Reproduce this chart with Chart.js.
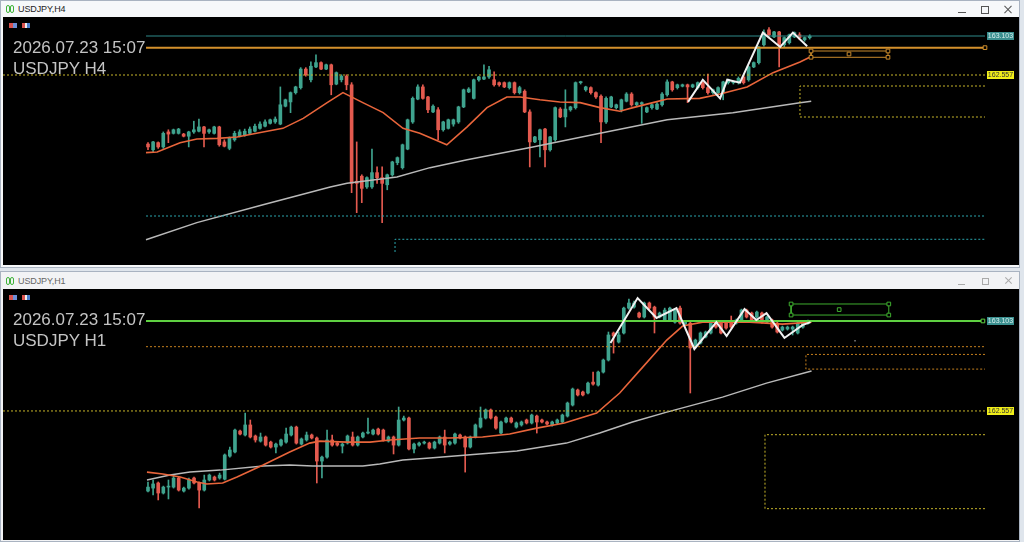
<!DOCTYPE html>
<html><head><meta charset="utf-8">
<script src="https://cdn.jsdelivr.net/npm/chart.js@4.4.1/dist/chart.umd.min.js"></script>
<style>
html,body{margin:0;padding:0;width:1024px;height:542px;overflow:hidden;background:#dfe5ec;font-family:"Liberation Sans",Arial,sans-serif;}
.win{position:absolute;left:0;width:1020px;border:1px solid #a9b3c1;box-sizing:border-box;}
#w1{top:0;height:268px;background:#f6f8fa;}
#w2{top:271px;height:271px;background:#f2f3f5;}
.ttl{position:absolute;left:17px;font-size:9px;letter-spacing:-0.1px;}
.ico{position:absolute;width:2px;height:6px;border:1px solid #3fb33a;border-radius:2px;}
canvas{position:absolute;background:#000;}
.txt{position:absolute;left:13px;color:#c4c4c4;font-size:17px;line-height:17px;white-space:nowrap;font-family:"Liberation Sans",Arial,sans-serif;}
.ctl{position:absolute;}
.mi{position:absolute;width:8px;height:5px;}
</style></head>
<body>
<div class="win" id="w1">
  <div class="ico" style="left:5px;top:4px"></div><div class="ico" style="left:9px;top:4px"></div>
  <div class="ttl" style="top:3px;color:#222">USDJPY,H4</div>
  <div class="ctl" style="left:957px;top:11px;width:8px;height:1px;background:#555"></div>
  <div class="ctl" style="left:980px;top:5px;width:6px;height:6px;border:1px solid #555"></div>
  <div class="ctl" style="left:1002px;top:8px;width:10px;height:1px;background:#555;transform:rotate(45deg)"></div>
  <div class="ctl" style="left:1002px;top:8px;width:10px;height:1px;background:#555;transform:rotate(-45deg)"></div>
</div>
<div class="win" id="w2">
  <div class="ico" style="left:5px;top:5px"></div><div class="ico" style="left:9px;top:5px"></div>
  <div class="ttl" style="top:4px;color:#666">USDJPY,H1</div>
  <div class="ctl" style="left:957px;top:12px;width:7px;height:1px;background:#aaa"></div>
  <div class="ctl" style="left:981px;top:6px;width:5px;height:5px;border:1px solid #aaa"></div>
  <div class="ctl" style="left:1003px;top:8px;width:9px;height:1px;background:#aaa;transform:rotate(45deg)"></div>
  <div class="ctl" style="left:1003px;top:8px;width:9px;height:1px;background:#aaa;transform:rotate(-45deg)"></div>
</div>
<canvas id="c1" width="1016" height="248" style="left:3px;top:17px"></canvas>
<canvas id="c2" width="1016" height="251" style="left:3px;top:289px"></canvas>

<div class="mi" style="left:9px;top:23px;background:linear-gradient(90deg,#d9534f 0 4px,#6d8fd6 4px 8px)"></div>
<div class="mi" style="left:22px;top:23px;background:linear-gradient(90deg,#d9534f 0 3px,#eee 3px 5px,#4a7fd0 5px 8px)"></div>
<div class="mi" style="left:9px;top:295px;background:linear-gradient(90deg,#d9534f 0 4px,#6d8fd6 4px 8px)"></div>
<div class="mi" style="left:22px;top:295px;background:linear-gradient(90deg,#d9534f 0 3px,#eee 3px 5px,#4a7fd0 5px 8px)"></div>

<div class="txt" style="top:38.5px">2026.07.23 15:07</div>
<div class="txt" style="top:59.5px">USDJPY H4</div>
<div class="txt" style="top:310.5px">2026.07.23 15:07</div>
<div class="txt" style="top:331.5px">USDJPY H1</div>

<script>
// ---------------- H4 data ----------------
const H4_OPEN = [161.59,161.51,161.61,161.55,161.76,161.74,161.74,161.73,161.70,161.76,
161.77,161.83,161.76,161.74,161.83,161.62,161.53,161.65,161.70,161.72,
161.74,161.77,161.81,161.84,161.88,161.90,161.87,162.12,162.18,162.31,
162.38,162.64,162.49,162.67,162.73,162.64,162.70,162.43,162.49,162.54,
162.42,161.07,161.14,160.99,160.99,161.19,161.12,161.02,161.16,161.33,
161.26,161.52,161.90,162.22,162.39,162.25,162.04,162.07,161.79,161.81,
161.87,161.90,162.11,162.32,162.23,162.49,162.50,162.53,162.49,162.45,
162.45,162.38,162.45,162.31,162.33,162.04,161.62,161.65,161.80,161.51,
161.65,162.08,161.97,162.07,162.10,162.45,162.35,162.38,162.31,162.26,
161.90,162.11,162.10,162.07,162.19,162.29,162.14,162.15,162.04,162.10,
162.08,162.14,162.28,162.46,162.38,162.40,162.42,162.39,162.38,162.45,
162.38,162.31,162.31,162.31,162.45,162.45,162.45,162.53,162.49,162.67,
162.73,162.98,163.19,163.09,163.16,162.98,163.01,163.09,163.12,163.05,163.08];
const H4_HIGH = [161.61,161.63,161.62,161.76,161.79,161.80,161.81,161.74,161.77,161.91,
161.94,161.84,161.80,161.84,161.84,161.65,161.69,161.77,161.79,161.80,
161.83,161.87,161.90,161.93,161.94,161.97,162.39,162.22,162.32,162.40,
162.66,162.66,162.74,162.84,162.74,162.71,162.71,162.60,162.56,162.56,
162.45,161.62,161.16,161.13,161.52,161.27,161.27,161.17,161.35,161.41,
161.59,161.94,162.25,162.42,162.42,162.26,162.14,162.10,161.91,161.94,
161.94,162.12,162.36,162.38,162.50,162.54,162.70,162.68,162.60,162.46,
162.46,162.46,162.46,162.40,162.35,162.07,161.70,161.80,161.81,161.70,
162.11,162.10,162.35,162.12,162.46,162.47,162.40,162.39,162.32,162.28,
162.25,162.26,162.15,162.22,162.31,162.31,162.18,162.18,162.11,162.15,
162.17,162.31,162.49,162.47,162.43,162.43,162.43,162.43,162.46,162.46,
162.57,162.36,162.39,162.47,162.50,162.47,162.53,162.54,162.68,162.74,
162.96,163.19,163.22,163.17,163.17,163.09,163.13,163.16,163.15,163.09,163.12];
const H4_LOW = [161.51,161.48,161.53,161.53,161.61,161.73,161.73,161.69,161.55,161.74,
161.76,161.55,161.74,161.73,161.56,161.55,161.51,161.63,161.69,161.70,
161.73,161.76,161.80,161.83,161.87,161.88,161.86,162.11,162.03,162.29,
162.36,162.54,162.46,162.66,162.63,162.63,162.28,162.42,162.46,162.35,
160.91,160.63,160.77,160.97,160.97,161.04,160.49,160.95,161.14,161.30,
161.24,161.51,161.88,162.21,162.22,162.03,162.03,161.65,161.77,161.80,
161.84,161.88,162.10,162.31,162.22,162.47,162.49,162.51,162.40,162.40,
162.38,162.36,162.29,162.29,162.03,161.27,161.61,161.41,161.27,161.49,
161.63,161.96,161.83,162.05,162.08,162.43,162.33,162.29,162.23,161.61,
161.88,162.10,162.08,162.04,162.18,162.12,162.12,161.88,162.03,162.08,
162.07,162.12,162.26,162.33,162.36,162.39,162.17,162.38,162.36,162.36,
162.29,162.29,162.29,162.21,162.43,162.43,162.43,162.43,162.47,162.66,
162.71,162.96,163.10,163.08,162.67,162.95,162.99,163.08,163.05,163.03,163.06];
const H4_CLOSE = [161.55,161.62,161.55,161.74,161.73,161.79,161.80,161.70,161.76,161.79,
161.83,161.74,161.79,161.83,161.58,161.56,161.67,161.74,161.76,161.77,
161.80,161.84,161.87,161.90,161.93,161.94,162.14,162.21,162.31,162.39,
162.64,162.56,162.68,162.73,162.64,162.70,162.42,162.59,162.54,162.42,
161.04,161.04,160.97,161.12,161.19,161.12,161.04,161.16,161.34,161.40,
161.58,161.93,162.23,162.39,162.23,162.07,162.12,161.79,161.90,161.93,
161.93,162.11,162.35,162.36,162.49,162.53,162.53,162.63,162.42,162.42,
162.39,162.45,162.31,162.38,162.04,161.62,161.69,161.79,161.51,161.69,
162.10,161.97,162.08,162.11,162.45,162.46,162.39,162.31,162.25,161.90,
162.23,162.25,162.14,162.21,162.29,162.14,162.17,162.17,162.10,162.14,
162.15,162.29,162.46,162.35,162.42,162.42,162.39,162.42,162.45,162.38,
162.31,162.35,162.38,162.46,162.49,162.46,162.51,162.45,162.67,162.73,
162.95,163.15,163.12,163.16,162.98,163.08,163.12,163.15,163.08,163.08,163.10];
const H4_EMA_X = [-0.4,1.8,6.3,9.6,13.6,17.5,22.6,26.5,30.5,35.2,38.3,42.2,46.2,50.1,53.4,58.7,62.7,66.6,70.5,73.1,77.0,80.9,84.9,88.8,92.7,95.3,99.2,102.0,108.4,112.4,117.7,122.8,128.1,130.1];
const H4_EMA_Y = [161.47,161.48,161.61,161.66,161.67,161.69,161.76,161.81,161.95,162.17,162.31,162.17,162.03,161.81,161.74,161.58,161.83,162.10,162.25,162.25,162.21,162.18,162.17,162.10,162.05,162.10,162.17,162.22,162.23,162.29,162.39,162.59,162.74,162.81];
const H4_SMA_X = [-0.4,9.6,22.6,35.8,39.1,48.9,55.4,62.7,75.6,88.8,102.0,114.9,128.1,130.3];
const H4_SMA_Y = [160.25,160.49,160.74,160.99,161.04,161.13,161.26,161.37,161.55,161.74,161.93,162.03,162.17,162.19];
const H4_ZZ_X = [106.1,109.0,112.4,113.8,116.3,120.8,124.2,126.7,129.5];
const H4_ZZ_Y = [162.18,162.49,162.23,162.49,162.45,163.15,162.95,163.15,162.96];
const H4_RANGE_X = [-28.49, 171.12];
const H4_RANGE_Y = [159.897, 163.369];

// ---------------- H1 data ----------------
const H1_OPEN = [162.071,162.089,162.120,162.059,162.095,162.095,162.150,162.071,162.089,162.150,
162.120,162.077,162.138,162.156,162.150,162.143,162.283,162.308,162.435,162.411,
162.472,162.405,162.374,162.399,162.368,162.338,162.350,162.368,162.411,162.459,
162.356,162.381,162.411,162.393,162.253,162.277,162.381,162.362,162.344,162.362,
162.399,162.350,162.399,162.423,162.417,162.447,162.441,162.374,162.399,162.350,
162.502,162.514,162.326,162.350,162.362,162.362,162.332,162.362,162.399,162.356,
162.362,162.411,162.399,162.338,162.399,162.459,162.514,162.563,162.520,162.423,
162.490,162.514,162.459,162.472,162.502,162.484,162.526,162.502,162.490,162.472,
162.484,162.490,162.526,162.593,162.684,162.672,162.666,162.732,162.714,162.793,
162.866,163.030,162.975,163.030,163.181,163.187,163.151,163.127,163.212,163.187,
163.127,163.109,163.109,163.096,163.181,163.084,163.090,162.945,162.969,163.006,
163.030,163.096,163.096,163.096,163.096,163.090,163.109,163.169,163.151,163.127,
163.151,163.096,163.109,163.090,163.048,163.054,163.054,163.030,163.066,163.090];
const H1_HIGH = [162.126,162.138,162.126,162.101,162.138,162.168,162.156,162.095,162.150,162.156,
162.126,162.168,162.174,162.162,162.180,162.296,162.338,162.447,162.441,162.544,
162.502,162.411,162.423,162.405,162.374,162.362,162.387,162.453,162.465,162.465,
162.393,162.429,162.417,162.399,162.283,162.441,162.411,162.368,162.362,162.411,
162.429,162.405,162.429,162.514,162.447,162.453,162.447,162.405,162.405,162.581,
162.526,162.520,162.362,162.368,162.374,162.368,162.374,162.405,162.441,162.374,
162.423,162.417,162.405,162.405,162.478,162.581,162.569,162.569,162.526,162.496,
162.520,162.520,162.490,162.496,162.508,162.538,162.532,162.508,162.496,162.496,
162.508,162.538,162.611,162.696,162.690,162.678,162.732,162.793,162.799,162.872,
163.036,163.036,163.036,163.187,163.236,163.224,163.157,163.218,163.218,163.193,
163.157,163.181,163.187,163.175,163.193,163.103,163.096,162.993,163.036,163.042,
163.096,163.103,163.103,163.103,163.133,163.115,163.175,163.175,163.157,163.163,
163.157,163.133,163.115,163.096,163.072,163.072,163.072,163.096,163.103,163.109];
const H1_LOW = [162.065,162.047,162.017,162.053,162.023,162.089,162.071,162.065,162.083,162.114,
161.968,162.071,162.132,162.132,162.143,162.138,162.277,162.302,162.411,162.405,
162.393,162.368,162.368,162.344,162.332,162.302,162.344,162.362,162.405,162.356,
162.350,162.374,162.387,162.120,162.150,162.271,162.344,162.344,162.302,162.356,
162.344,162.344,162.393,162.417,162.411,162.411,162.374,162.368,162.296,162.344,
162.496,162.320,162.302,162.344,162.356,162.326,162.326,162.356,162.302,162.350,
162.356,162.387,162.186,162.332,162.393,162.453,162.508,162.508,162.447,162.417,
162.484,162.484,162.453,162.465,162.478,162.478,162.423,162.484,162.472,162.465,
162.478,162.484,162.520,162.587,162.648,162.648,162.660,162.714,162.708,162.787,
162.860,162.908,162.969,163.024,163.175,163.181,163.121,163.121,163.175,163.030,
163.121,163.103,163.103,163.090,163.084,163.078,162.666,162.939,162.963,163.000,
163.024,163.060,163.024,163.054,163.060,163.084,163.103,163.121,163.103,163.121,
163.090,163.090,163.060,163.030,163.042,163.048,163.018,163.024,163.060,163.084];
const H1_CLOSE = [162.095,162.114,162.059,162.095,162.101,162.150,162.077,162.089,162.138,162.120,
162.077,162.138,162.168,162.138,162.168,162.290,162.320,162.441,162.417,162.472,
162.399,162.381,162.399,162.350,162.338,162.356,162.381,162.417,162.459,162.362,
162.387,162.411,162.393,162.253,162.277,162.381,162.350,162.350,162.356,162.405,
162.350,162.399,162.423,162.429,162.441,162.417,162.381,162.399,162.350,162.502,
162.514,162.326,162.356,162.362,162.368,162.332,162.368,162.399,162.350,162.368,
162.417,162.393,162.338,162.399,162.472,162.514,162.563,162.514,162.453,162.490,
162.514,162.490,162.484,162.490,162.484,162.532,162.490,162.490,162.478,162.490,
162.502,162.532,162.605,162.690,162.654,162.654,162.726,162.720,162.793,162.866,
163.018,163.012,163.018,163.181,163.212,163.212,163.127,163.212,163.181,163.127,
163.151,163.169,163.181,163.169,163.090,163.096,162.939,162.987,163.030,163.036,
163.090,163.066,163.030,163.060,163.066,163.109,163.169,163.127,163.109,163.157,
163.096,163.127,163.066,163.036,163.066,163.066,163.066,163.090,163.096,163.096];
const H1_EMA_X = [-0.2,2.9,6.3,9.6,11.5,14.6,17.4,22.5,27.7,31.6,33.6,38.9,43.4,47.3,53.1,59.0,65.4,70.7,76.0,81.4,87.7,92.2,96.7,101.4,104.5,108.4,117.6,124.0,129.7];
const H1_EMA_Y = [162.186,162.174,162.156,162.126,162.114,162.120,162.156,162.229,162.308,162.362,162.374,162.368,162.368,162.381,162.393,162.393,162.399,162.417,162.453,162.484,162.544,162.666,162.823,162.987,163.072,163.096,163.096,163.084,163.096];
const H1_SMA_X = [-0.2,4.3,8.2,14.1,22.5,27.7,32.2,42.0,45.3,49.8,55.1,64.8,72.1,81.8,88.3,94.7,101.4,112.3,120.9,129.7];
const H1_SMA_Y = [162.138,162.168,162.186,162.198,162.223,162.229,162.223,162.223,162.235,162.259,162.271,162.296,162.314,162.362,162.423,162.490,162.550,162.641,162.726,162.799];
const H1_ZZ_X = [90.4,95.7,99.4,103.3,106.8,111.1,113.1,116.6,118.9,120.9,124.4,127.9,129.5];
const H1_ZZ_Y = [162.969,163.242,163.121,163.181,162.933,163.096,163.012,163.175,163.109,163.151,163.000,163.078,163.096];
const H1_RANGE_X = [-28.34, 170.25];
const H1_RANGE_Y = [161.774, 163.297];

// price labels (right side)
const LABEL_PRICES = [163.103, 162.557];

// ---------------- drawing helpers ----------------
const UP = '#3fa38e', DN = '#e35a4f';

function candles(O, H, L, C) {
  const col = O.map((o, i) => (C[i] >= o ? UP : DN));
  return [
    { type: 'bar', data: O.map((o, i) => ({ x: i, y: [L[i], H[i]] })), backgroundColor: col,
      barThickness: 1, grouped: false, minBarLength: 1, order: 20 },
    { type: 'bar', data: O.map((o, i) => ({ x: i, y: [o, C[i]] })), backgroundColor: col,
      barThickness: 3, grouped: false, minBarLength: 1, order: 19 }
  ];
}
function line(xs, ys, color, width, dash, order) {
  return { type: 'line', data: xs.map((x, i) => ({ x: x, y: ys[i] })), borderColor: color,
    borderWidth: width, borderDash: dash || [], pointRadius: 0, fill: false, tension: 0,
    order: order == null ? 5 : order, borderCapStyle: 'butt' };
}
function handles(xs, ys, color) {
  return { type: 'line', showLine: false, data: xs.map((x, i) => ({ x: x, y: ys[i] })),
    pointStyle: 'rect', pointRadius: 2.6, pointBackgroundColor: '#000', pointBorderColor: color,
    pointBorderWidth: 1, order: 0 };
}

const labelPlugin = {
  id: 'pricelabels',
  afterDatasetsDraw(chart, args, opts) {
    const ctx = chart.ctx, ys = chart.scales.y, right = chart.chartArea.right;
    ctx.save();
    (opts.items || []).forEach(it => {
      const py = Math.round(ys.getPixelForValue(it.v));
      ctx.fillStyle = it.bg;
      ctx.fillRect(right - 32, py - 4, 27, 8);
      ctx.font = '7px "Liberation Sans", Arial, sans-serif';
      ctx.fillStyle = it.fg;
      ctx.textAlign = 'center';
      ctx.textBaseline = 'middle';
      ctx.fillText(it.v.toFixed(3), right - 18.5, py + 0.5);
    });
    ctx.restore();
  }
};

function make(id, datasets, rx, ry, labels) {
  new Chart(document.getElementById(id), {
    type: 'line',
    data: { datasets: datasets },
    options: {
      responsive: false, animation: false, events: [],
      layout: { padding: 0, autoPadding: false },
      scales: {
        x: { type: 'linear', min: rx[0], max: rx[1], display: false, offset: false },
        y: { type: 'linear', min: ry[0], max: ry[1], display: false }
      },
      plugins: { legend: { display: false }, tooltip: { enabled: false }, pricelabels: { items: labels } }
    },
    plugins: [labelPlugin]
  });
}

// ---------------- H4 chart ----------------
const T_END = 164.44, T_START = -0.39;
make('c1', [
  ...candles(H4_OPEN, H4_HIGH, H4_LOW, H4_CLOSE),
  line(H4_SMA_X, H4_SMA_Y, '#b9b9b9', 1.5, null, 8),
  line(H4_EMA_X, H4_EMA_Y, '#e8653b', 1.6, null, 7),
  line(H4_ZZ_X, H4_ZZ_Y, '#f2f2f2', 2, null, 2),
  line([T_START, T_END], [LABEL_PRICES[0], LABEL_PRICES[0]], '#2f8a8a', 1, null, 6),
  line([T_START, T_END], [162.94, 162.94], '#d4912c', 2, null, 4),
  line([H4_RANGE_X[0], T_END], [LABEL_PRICES[1], LABEL_PRICES[1]], '#c7b52a', 1, [2, 2], 6),
  line([T_END, 128.09, 128.09, T_END], [162.403, 162.403, 161.969, 161.969], '#c7b52a', 1, [2, 2], 6),
  line([145.38, 130.26, 130.26, 145.38, 145.38], [162.893, 162.893, 162.805, 162.805, 162.893], '#c8892c', 1, null, 3),
  handles([130.26, 145.38, 130.26, 145.38, 137.72], [162.893, 162.893, 162.805, 162.805, 162.851], '#c8892c'),
  handles([T_END], [162.94], '#d4912c'),
  line([T_START, T_END], [160.583, 160.583], '#2ba6ae', 1, [2, 2], 6),
  line([48.53, 48.53, T_END], [160.079, 160.257, 160.257], '#2ba6ae', 1, [2, 2], 6)
], H4_RANGE_X, H4_RANGE_Y, [
  { v: LABEL_PRICES[0], bg: '#3b9090', fg: '#d8eeee' },
  { v: LABEL_PRICES[1], bg: '#f0ee1a', fg: '#333' }
]);

// ---------------- H1 chart ----------------
const B_END = 163.6, B_START = -0.39;
make('c2', [
  ...candles(H1_OPEN, H1_HIGH, H1_LOW, H1_CLOSE),
  line(H1_SMA_X, H1_SMA_Y, '#b9b9b9', 1.5, null, 8),
  line(H1_EMA_X, H1_EMA_Y, '#e8653b', 1.6, null, 7),
  line(H1_ZZ_X, H1_ZZ_Y, '#f2f2f2', 2, null, 2),
  line([B_START, B_END], [LABEL_PRICES[0], LABEL_PRICES[0]], '#5fd142', 2, null, 4),
  handles([163.2], [LABEL_PRICES[0]], '#5fd142'),
  line([144.8, 125.7, 125.7, 144.8, 144.8], [163.206, 163.206, 163.139, 163.139, 163.206], '#3fae2f', 1, null, 3),
  handles([125.7, 144.8, 125.7, 144.8, 135.1], [163.206, 163.206, 163.139, 163.139, 163.172], '#3fae2f'),
  line([B_START, B_END], [162.947, 162.947], '#c7801e', 1, [2, 2], 6),
  line([B_END, 128.6, 128.6, B_END], [162.900, 162.900, 162.811, 162.811], '#c7801e', 1, [2, 2], 6),
  line([H1_RANGE_X[0], B_END], [LABEL_PRICES[1], LABEL_PRICES[1]], '#c7b52a', 1, [2, 2], 6),
  line([B_END, 120.6, 120.6, B_END], [162.413, 162.413, 161.964, 161.964], '#c7b52a', 1, [2, 2], 6),
  { type: 'line', showLine: false, data: [{ x: 138.2, y: 162.983 }], pointStyle: 'rect', pointRadius: 1,
    pointBackgroundColor: '#888', pointBorderWidth: 0, order: 0 }
], H1_RANGE_X, H1_RANGE_Y, [
  { v: LABEL_PRICES[0], bg: '#3b9090', fg: '#d8eeee' },
  { v: LABEL_PRICES[1], bg: '#f0ee1a', fg: '#333' }
]);
</script>
</body></html>
